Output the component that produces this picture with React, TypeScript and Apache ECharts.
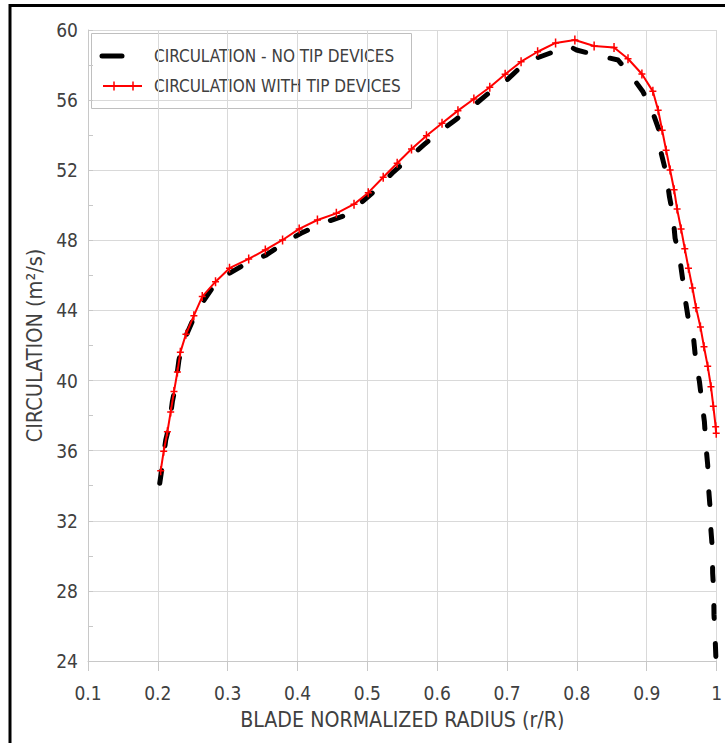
import React, { useEffect, useRef } from "react";
import * as echarts from "echarts";

const seriesNames = ["CIRCULATION - NO TIP DEVICES", "CIRCULATION WITH TIP DEVICES"];

const noTipX = [0.2027,0.2055,0.2113,0.2160,0.2208,0.2255,0.2302,0.2359,0.2502,0.2598,0.2826,0.3026,0.3311,0.3549,0.3835,0.4049,0.4381,0.4633,0.4785,0.4927,0.5094,0.5355,0.5522,0.5807,0.5974,0.6260,0.6474,0.6735,0.6949,0.7201,0.7438,0.7757,0.7876,0.7995,0.8318,0.8589,0.8803,0.8946,0.9088,0.9184,0.9207,0.9278,0.9326,0.9374,0.9406,0.9469,0.9516,0.9549,0.9602,0.9673,0.9706,0.9755,0.9792,0.9826,0.9849,0.9873,0.9887,0.9906,0.9920,0.9940,0.9944,0.9959,0.9963,0.9977,0.9991];
const noTipY = [34.14,34.90,36.61,37.37,38.80,39.75,41.17,42.13,43.46,44.22,45.55,46.12,46.78,47.16,47.92,48.40,49.01,49.35,49.63,50.21,50.78,51.83,52.43,53.44,54.01,54.87,55.53,56.39,56.96,57.91,58.42,58.89,59.10,58.86,58.53,58.29,57.26,56.48,55.27,54.20,52.98,51.84,50.47,49.50,48.12,47.07,45.74,44.69,43.36,42.32,40.99,39.94,38.70,37.66,36.23,35.19,33.80,32.81,31.44,30.39,29.01,28.00,26.63,25.58,24.12];

const tipX = [0.2041,0.2084,0.2137,0.2184,0.2231,0.2280,0.2322,0.2402,0.2516,0.2636,0.2826,0.3026,0.3301,0.3539,0.3786,0.4024,0.4285,0.4556,0.4809,0.5013,0.5227,0.5427,0.5632,0.5846,0.6069,0.6297,0.6525,0.6753,0.6973,0.7201,0.7438,0.7695,0.7971,0.8247,0.8532,0.8732,0.8931,0.9088,0.9164,0.9221,0.9278,0.9335,0.9392,0.9435,0.9492,0.9545,0.9598,0.9655,0.9706,0.9769,0.9820,0.9873,0.9920,0.9954,0.9987,0.9995];
const tipY = [34.86,35.97,37.08,38.21,39.37,40.49,41.61,42.64,43.70,44.79,45.64,46.41,46.94,47.45,48.02,48.65,49.16,49.54,50.06,50.72,51.60,52.40,53.21,53.97,54.68,55.40,56.06,56.73,57.47,58.19,58.76,59.26,59.43,59.09,59.00,58.36,57.49,56.50,55.42,54.28,53.14,52.01,50.89,49.79,48.65,47.52,46.41,45.28,44.16,43.06,41.93,40.82,39.65,38.53,37.37,37.0];

const xTitle = "BLADE NORMALIZED RADIUS (r/R)";
const yTitle = "CIRCULATION (m²/s)";

const FONT = "'Liberation Sans Narrow', 'DejaVu Sans Condensed', 'Liberation Sans', sans-serif";
const TEXT = "#404040";
const GRID = "#d9d9d9";
const AXIS = "#c8c8c8";

const plusPath =
  "path://M-0.75,-4.5 L0.75,-4.5 L0.75,-0.75 L3.5,-0.75 L3.5,0.75 L0.75,0.75 L0.75,4.5 L-0.75,4.5 L-0.75,0.75 L-3.5,0.75 L-3.5,-0.75 L-0.75,-0.75 Z";

export default function App() {
  const ref = useRef<HTMLDivElement>(null);
  useEffect(() => {
    if (!ref.current) return;
    const chart = echarts.init(ref.current, null, { renderer: "svg" });
    const noTip = noTipX.map((x, i) => [x, noTipY[i]]);
    const tip = tipX.map((x, i) => [x, tipY[i]]);
    const plus = (cx: number, cy: number) => [
      { type: "line", shape: { x1: cx, y1: cy - 4.5, x2: cx, y2: cy + 4.5 }, style: { stroke: "#ff0000", lineWidth: 1.5 } },
      { type: "line", shape: { x1: cx - 3.5, y1: cy, x2: cx + 3.5, y2: cy }, style: { stroke: "#ff0000", lineWidth: 1.5 } },
    ];
    chart.setOption({
      animation: false,
      backgroundColor: "#ffffff",
      grid: { left: 88, top: 30, width: 631, height: 631 },
      xAxis: {
        type: "value",
        min: 0.1,
        max: 1.0,
        interval: 0.1,
        name: xTitle,
        nameLocation: "middle",
        nameGap: 48,
        nameTextStyle: { fontFamily: FONT, fontSize: 21.2, color: TEXT },
        axisLine: { show: true, onZero: false, lineStyle: { color: AXIS, width: 1 } },
        axisTick: { show: true, length: 10, lineStyle: { color: AXIS } },
        axisLabel: {
          margin: 22,
          fontFamily: FONT,
          fontSize: 19,
          color: TEXT,
          formatter: (v: number) => String(Math.round(v * 10) / 10),
        },
        splitLine: { show: true, lineStyle: { color: GRID, width: 1 } },
      },
      yAxis: {
        type: "value",
        min: 24,
        max: 60,
        interval: 4,
        name: yTitle,
        nameLocation: "middle",
        nameGap: 42,
        nameTextStyle: { fontFamily: FONT, fontSize: 21.5, color: TEXT },
        axisLine: { show: true, lineStyle: { color: AXIS, width: 1 } },
        axisTick: { show: true, inside: true, length: 5, lineStyle: { color: AXIS } },
        minorTick: { show: true, splitNumber: 2, length: 5, lineStyle: { color: AXIS } },
        axisLabel: { margin: 10, fontFamily: FONT, fontSize: 19, color: TEXT },
        splitLine: { show: true, lineStyle: { color: GRID, width: 1 } },
      },
      series: [
        {
          name: seriesNames[0],
          type: "line",
          data: noTip,
          showSymbol: false,
          symbol: "none",
          lineStyle: { color: "#000000", width: 5, type: [13, 25], cap: "round", join: "round" },
          z: 2,
        },
        {
          name: seriesNames[1],
          type: "line",
          data: tip,
          symbol: plusPath,
          symbolSize: [7, 9],
          itemStyle: { color: "#ff0000" },
          lineStyle: { color: "#ff0000", width: 2 },
          z: 3,
        },
      ],
      graphic: [
        {
          type: "rect",
          shape: { x: 10, y: 5.5, width: 900, height: 900 },
          style: { fill: "none", stroke: "#000000", lineWidth: 3 },
          z: 200,
          silent: true,
        },
        {
          type: "group",
          z: 100,
          children: [
            {
              type: "rect",
              shape: { x: 91.5, y: 33.5, width: 320, height: 75 },
              style: { fill: "#ffffff", stroke: "#bfbfbf", lineWidth: 1 },
            },
            {
              type: "line",
              shape: { x1: 102, y1: 56, x2: 122, y2: 56 },
              style: { stroke: "#000000", lineWidth: 5, lineCap: "round" },
            },
            {
              type: "text",
              x: 154,
              y: 56,
              style: { text: seriesNames[0], fontFamily: FONT, fontSize: 17, fill: TEXT, verticalAlign: "middle", align: "left" },
            },
            {
              type: "line",
              shape: { x1: 103, y1: 86, x2: 142, y2: 86 },
              style: { stroke: "#ff0000", lineWidth: 2 },
            },
            ...plus(114, 86),
            ...plus(133, 86),
            {
              type: "text",
              x: 154,
              y: 86,
              style: { text: seriesNames[1], fontFamily: FONT, fontSize: 17, fill: TEXT, verticalAlign: "middle", align: "left" },
            },
          ],
        },
      ],
    });
    return () => chart.dispose();
  }, []);
  return <div ref={ref} style={{ position: "fixed", left: 0, top: 0, width: 725, height: 743 }} />;
}
